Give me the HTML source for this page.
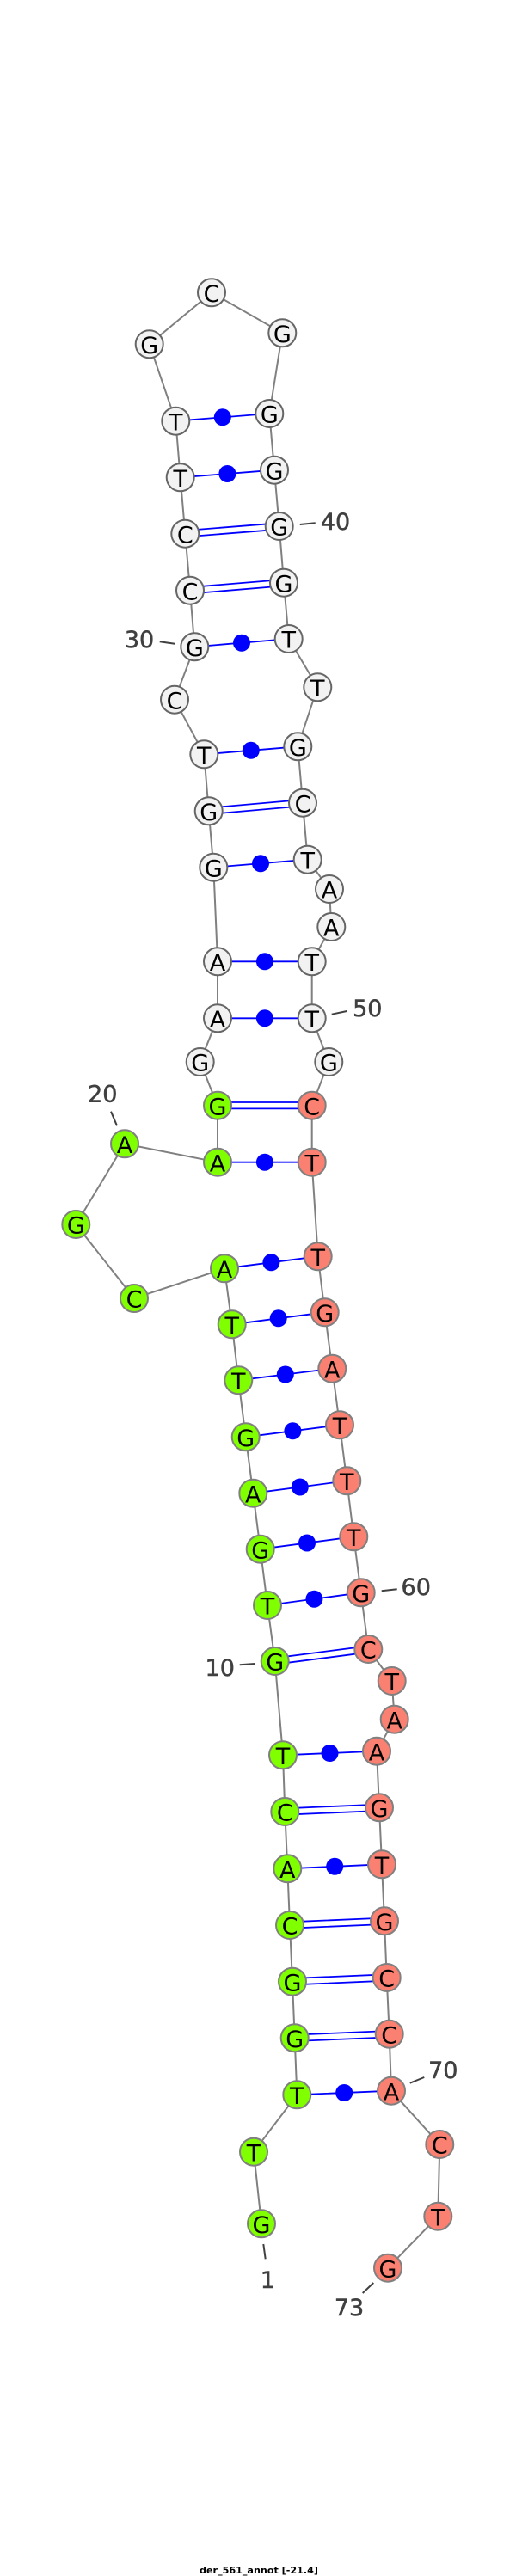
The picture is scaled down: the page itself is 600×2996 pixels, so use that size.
<!DOCTYPE html>
<html><head><meta charset="utf-8"><style>
html,body{margin:0;padding:0;background:#fff}
svg{display:block}
.n text,.l text{font-family:"DejaVu Sans",sans-serif;font-size:27px;text-anchor:middle}
.n text{fill:#000}
.l text{fill:#404040;stroke:#404040;stroke-width:.5}
.w circle{fill:#f2f2f2;stroke:#666;stroke-width:2}
.g circle{fill:#7fff00;stroke:#808080;stroke-width:2}
.s circle{fill:#fa8072;stroke:#808080;stroke-width:2}
</style></head><body>
<svg xmlns="http://www.w3.org/2000/svg" width="600" height="2996" viewBox="0 0 600 2996">
<rect width="600" height="2996" fill="#fff"/>
<polyline fill="none" stroke="#808080" stroke-width="2" points="304,2586.3 295,2502.7 345.3,2436.3 342.7,2370.3 340,2304.7 337,2239 334.3,2173.3 331.3,2107 329,2041.3 319.7,1932 311,1867 302.7,1801.7 294.3,1736.7 285.7,1671.3 277.3,1605.3 269.7,1540.3 261,1475.3 156,1510 88.3,1424 145,1330.3 253,1351.7 253,1285.7 232.7,1235 253,1184.3 253,1118.3 248.3,1008.7 242.7,943.3 237.3,877.3 203,813.7 226.3,752.3 221,686.7 215.3,620.7 209.7,555.3 204.3,489.7 173.7,400.3 246,340.3 328.3,387.3 313.3,481 319,546.7 324.7,612 330,677.7 335.7,743 369.3,799.3 346.3,868.3 352,933.7 357.7,999.7 383,1034 385.3,1078 362.7,1118.3 362.7,1184.3 382.3,1235 362.7,1285.7 362.7,1351.7 369.7,1461.3 377.7,1526.3 386.3,1591.7 395,1657.3 403.3,1722.3 411.3,1787.3 419.7,1852.3 428.3,1918 455.7,1955 458.7,1999.7 438,2036.7 441,2102.3 444,2168.3 447,2234.3 449.7,2300 452.7,2365.7 455,2431.7 511.3,2494 509.3,2577.7 451,2637.7"/>
<g stroke="#0000ff" stroke-width="1.8" fill="none">
<path d="M345.3 2436.3L455 2431.7M334.3 2173.3L444 2168.3M329 2041.3L438 2036.7M311 1867L419.7 1852.3M302.7 1801.7L411.3 1787.3M294.3 1736.7L403.3 1722.3M285.7 1671.3L395 1657.3M277.3 1605.3L386.3 1591.7M269.7 1540.3L377.7 1526.3M261 1475.3L369.7 1461.3M253 1351.7L362.7 1351.7M253 1184.3L362.7 1184.3M253 1118.3L362.7 1118.3M248.3 1008.7L357.7 999.7M237.3 877.3L346.3 868.3M226.3 752.3L335.7 743M209.7 555.3L319 546.7M204.3 489.7L313.3 481"/>
<path d="M342.7 2366.6L452.7 2362M342.7 2374L452.7 2369.4M340 2301L449.7 2296.3M340 2308.4L449.7 2303.7M337 2235.3L447 2230.6M337 2242.7L447 2238M331.3 2103.3L441 2098.6M331.3 2110.7L441 2106M319.7 1928.3L428.3 1914.3M319.7 1935.7L428.3 1921.7M253 1282L362.7 1282M253 1289.4L362.7 1289.4M242.7 939.6L352 930M242.7 947L352 937.4M221 683L330 674M221 690.4L330 681.4M215.3 617L324.7 608.3M215.3 624.4L324.7 615.7"/>
</g>
<g fill="#0000ff">
<circle cx="400.2" cy="2434" r="10"/><circle cx="389.2" cy="2170.8" r="10"/><circle cx="383.5" cy="2039" r="10"/><circle cx="365.4" cy="1859.7" r="10"/><circle cx="357" cy="1794.5" r="10"/><circle cx="348.8" cy="1729.5" r="10"/><circle cx="340.4" cy="1664.3" r="10"/><circle cx="331.8" cy="1598.5" r="10"/><circle cx="323.7" cy="1533.3" r="10"/><circle cx="315.4" cy="1468.3" r="10"/><circle cx="307.9" cy="1351.7" r="10"/><circle cx="307.9" cy="1184.3" r="10"/><circle cx="307.9" cy="1118.3" r="10"/><circle cx="303" cy="1004.2" r="10"/><circle cx="291.8" cy="872.8" r="10"/><circle cx="281" cy="747.7" r="10"/><circle cx="264.4" cy="551" r="10"/><circle cx="258.8" cy="485.3" r="10"/>
</g>
<g class="g">
<circle cx="304" cy="2586.3" r="16"/><circle cx="295" cy="2502.7" r="16"/><circle cx="345.3" cy="2436.3" r="16"/><circle cx="342.7" cy="2370.3" r="16"/><circle cx="340" cy="2304.7" r="16"/><circle cx="337" cy="2239" r="16"/><circle cx="334.3" cy="2173.3" r="16"/><circle cx="331.3" cy="2107" r="16"/><circle cx="329" cy="2041.3" r="16"/><circle cx="319.7" cy="1932" r="16"/><circle cx="311" cy="1867" r="16"/><circle cx="302.7" cy="1801.7" r="16"/><circle cx="294.3" cy="1736.7" r="16"/><circle cx="285.7" cy="1671.3" r="16"/><circle cx="277.3" cy="1605.3" r="16"/><circle cx="269.7" cy="1540.3" r="16"/><circle cx="261" cy="1475.3" r="16"/><circle cx="156" cy="1510" r="16"/><circle cx="88.3" cy="1424" r="16"/><circle cx="145" cy="1330.3" r="16"/><circle cx="253" cy="1351.7" r="16"/><circle cx="253" cy="1285.7" r="16"/>
</g>
<g class="w">
<circle cx="232.7" cy="1235" r="16"/><circle cx="253" cy="1184.3" r="16"/><circle cx="253" cy="1118.3" r="16"/><circle cx="248.3" cy="1008.7" r="16"/><circle cx="242.7" cy="943.3" r="16"/><circle cx="237.3" cy="877.3" r="16"/><circle cx="203" cy="813.7" r="16"/><circle cx="226.3" cy="752.3" r="16"/><circle cx="221" cy="686.7" r="16"/><circle cx="215.3" cy="620.7" r="16"/><circle cx="209.7" cy="555.3" r="16"/><circle cx="204.3" cy="489.7" r="16"/><circle cx="173.7" cy="400.3" r="16"/><circle cx="246" cy="340.3" r="16"/><circle cx="328.3" cy="387.3" r="16"/><circle cx="313.3" cy="481" r="16"/><circle cx="319" cy="546.7" r="16"/><circle cx="324.7" cy="612" r="16"/><circle cx="330" cy="677.7" r="16"/><circle cx="335.7" cy="743" r="16"/><circle cx="369.3" cy="799.3" r="16"/><circle cx="346.3" cy="868.3" r="16"/><circle cx="352" cy="933.7" r="16"/><circle cx="357.7" cy="999.7" r="16"/><circle cx="383" cy="1034" r="16"/><circle cx="385.3" cy="1078" r="16"/><circle cx="362.7" cy="1118.3" r="16"/><circle cx="362.7" cy="1184.3" r="16"/><circle cx="382.3" cy="1235" r="16"/>
</g>
<g class="s">
<circle cx="362.7" cy="1285.7" r="16"/><circle cx="362.7" cy="1351.7" r="16"/><circle cx="369.7" cy="1461.3" r="16"/><circle cx="377.7" cy="1526.3" r="16"/><circle cx="386.3" cy="1591.7" r="16"/><circle cx="395" cy="1657.3" r="16"/><circle cx="403.3" cy="1722.3" r="16"/><circle cx="411.3" cy="1787.3" r="16"/><circle cx="419.7" cy="1852.3" r="16"/><circle cx="428.3" cy="1918" r="16"/><circle cx="455.7" cy="1955" r="16"/><circle cx="458.7" cy="1999.7" r="16"/><circle cx="438" cy="2036.7" r="16"/><circle cx="441" cy="2102.3" r="16"/><circle cx="444" cy="2168.3" r="16"/><circle cx="447" cy="2234.3" r="16"/><circle cx="449.7" cy="2300" r="16"/><circle cx="452.7" cy="2365.7" r="16"/><circle cx="455" cy="2431.7" r="16"/><circle cx="511.3" cy="2494" r="16"/><circle cx="509.3" cy="2577.7" r="16"/><circle cx="451" cy="2637.7" r="16"/>
</g>
<g class="n" transform="translate(0,10.7)">
<text x="304" y="2586.3">G</text><text x="295" y="2502.7">T</text><text x="345.3" y="2436.3">T</text><text x="342.7" y="2370.3">G</text><text x="340" y="2304.7">G</text><text x="337" y="2239">C</text><text x="334.3" y="2173.3">A</text><text x="331.3" y="2107">C</text><text x="329" y="2041.3">T</text><text x="319.7" y="1932">G</text><text x="311" y="1867">T</text><text x="302.7" y="1801.7">G</text><text x="294.3" y="1736.7">A</text><text x="285.7" y="1671.3">G</text><text x="277.3" y="1605.3">T</text><text x="269.7" y="1540.3">T</text><text x="261" y="1475.3">A</text><text x="156" y="1510">C</text><text x="88.3" y="1424">G</text><text x="145" y="1330.3">A</text><text x="253" y="1351.7">A</text><text x="253" y="1285.7">G</text>
<text x="232.7" y="1235">G</text><text x="253" y="1184.3">A</text><text x="253" y="1118.3">A</text><text x="248.3" y="1008.7">G</text><text x="242.7" y="943.3">G</text><text x="237.3" y="877.3">T</text><text x="203" y="813.7">C</text><text x="226.3" y="752.3">G</text><text x="221" y="686.7">C</text><text x="215.3" y="620.7">C</text><text x="209.7" y="555.3">T</text><text x="204.3" y="489.7">T</text><text x="173.7" y="400.3">G</text><text x="246" y="340.3">C</text><text x="328.3" y="387.3">G</text><text x="313.3" y="481">G</text><text x="319" y="546.7">G</text><text x="324.7" y="612">G</text><text x="330" y="677.7">G</text><text x="335.7" y="743">T</text><text x="369.3" y="799.3">T</text><text x="346.3" y="868.3">G</text><text x="352" y="933.7">C</text><text x="357.7" y="999.7">T</text><text x="383" y="1034">A</text><text x="385.3" y="1078">A</text><text x="362.7" y="1118.3">T</text><text x="362.7" y="1184.3">T</text><text x="382.3" y="1235">G</text>
<text x="362.7" y="1285.7">C</text><text x="362.7" y="1351.7">T</text><text x="369.7" y="1461.3">T</text><text x="377.7" y="1526.3">G</text><text x="386.3" y="1591.7">A</text><text x="395" y="1657.3">T</text><text x="403.3" y="1722.3">T</text><text x="411.3" y="1787.3">T</text><text x="419.7" y="1852.3">G</text><text x="428.3" y="1918">C</text><text x="455.7" y="1955">T</text><text x="458.7" y="1999.7">A</text><text x="438" y="2036.7">A</text><text x="441" y="2102.3">G</text><text x="444" y="2168.3">T</text><text x="447" y="2234.3">G</text><text x="449.7" y="2300">C</text><text x="452.7" y="2365.7">C</text><text x="455" y="2431.7">A</text><text x="511.3" y="2494">C</text><text x="509.3" y="2577.7">T</text><text x="451" y="2637.7">G</text>
</g>
<path fill="none" stroke="#404040" stroke-width="2" d="M348.7 610L366.7 608.3M185.7 746.3L203.3 748.7M385.7 1179.7L403.3 1176M129 1292.7L136 1309.3M443.7 1850.3L461.7 1848.3M278.7 1936.3L296.3 1935M476.7 2422.7L493.3 2416M306.3 2610L308.7 2627.3M434.3 2655L421.7 2667"/>
<g class="l" transform="translate(0,9.8)">
<text x="390" y="606">40</text><text x="162" y="743">30</text><text x="427.3" y="1172">50</text><text x="119.3" y="1271.7">20</text><text x="483.7" y="1845.3">60</text><text x="255.7" y="1939.3">10</text><text x="515.3" y="2407.3">70</text><text x="311.3" y="2651">1</text><text x="406" y="2683.3">73</text>
</g>
<text x="301" y="2993" text-anchor="middle" font-family="'DejaVu Sans',sans-serif" font-size="10.5" font-weight="bold" fill="#000" textLength="138" lengthAdjust="spacingAndGlyphs">der_561_annot [-21.4]</text>
</svg>
</body></html>
